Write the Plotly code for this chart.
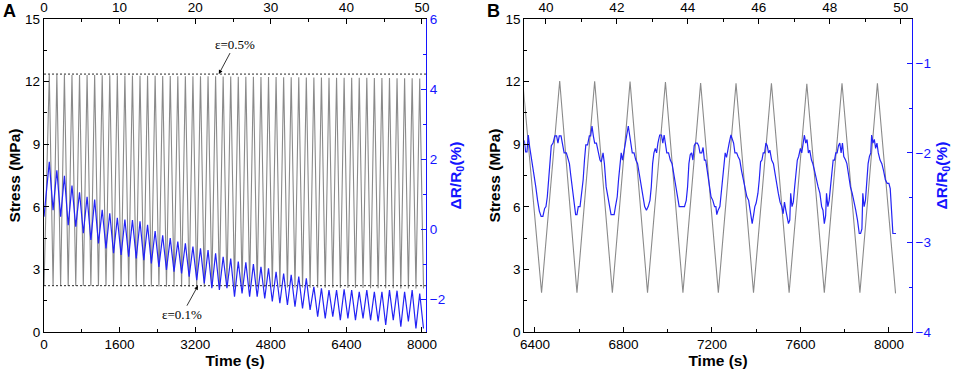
import plotly.graph_objects as go

# ---------------- Panel A data ----------------
a_peak_t = [112, 272, 432, 592, 752, 912, 1072, 1232, 1392, 1552, 1712, 1872, 2032, 2192, 2352, 2512, 2672,
            2832, 2992, 3152, 3312, 3472, 3632, 3792, 3952, 4112, 4272, 4432, 4592, 4752, 4912, 5072, 5232,
            5392, 5552, 5712, 5872, 6032, 6192, 6352, 6512, 6672, 6832, 6992, 7152, 7312, 7472, 7632, 7792, 7952]
a_trough_t = [192, 352, 512, 672, 832, 992, 1152, 1312, 1472, 1632, 1792, 1952, 2112, 2272, 2432, 2592, 2752,
              2912, 3072, 3232, 3392, 3552, 3712, 3872, 4032, 4192, 4352, 4512, 4672, 4832, 4992, 5152, 5312,
              5472, 5632, 5792, 5952, 6112, 6272, 6432, 6592, 6752, 6912, 7072, 7232, 7392, 7552, 7712, 7872, 8032]
a_stress_start = 2.2
a_stress_peak = [12.34, 12.33, 12.33, 12.32, 12.32, 12.31, 12.31, 12.30, 12.30, 12.30,
                 12.29, 12.29, 12.28, 12.28, 12.28, 12.27, 12.27, 12.26, 12.26, 12.26,
                 12.25, 12.25, 12.25, 12.24, 12.24, 12.23, 12.23, 12.23, 12.22, 12.22,
                 12.22, 12.21, 12.21, 12.21, 12.20, 12.20, 12.20, 12.19, 12.19, 12.19,
                 12.18, 12.18, 12.18, 12.17, 12.17, 12.17, 12.16, 12.16, 12.16, 12.15]
a_stress_trough = [2.22, 2.22, 2.21, 2.21, 2.21, 2.20, 2.20, 2.20, 2.19, 2.19,
                   2.19, 2.18, 2.18, 2.18, 2.18, 2.17, 2.17, 2.17, 2.16, 2.16,
                   2.16, 2.16, 2.15, 2.15, 2.15, 2.15, 2.14, 2.14, 2.14, 2.14,
                   2.13, 2.13, 2.13, 2.13, 2.12, 2.12, 2.12, 2.12, 2.11, 2.11,
                   2.11, 2.11, 2.10, 2.10, 2.10, 2.10, 2.09, 2.09, 2.09, 2.08]
a_res_start = 0.35
a_res_peak = [1.92, 1.68, 1.52, 1.24, 1.05, 0.92, 0.84, 0.55, 0.45, 0.32,
              0.27, 0.26, 0.22, 0.12, -0.06, -0.18, -0.26, -0.36, -0.41, -0.50,
              -0.55, -0.60, -0.69, -0.79, -0.84, -0.93, -0.95, -1.00, -1.08, -1.12,
              -1.22, -1.27, -1.31, -1.36, -1.41, -1.65, -1.69, -1.74, -1.74, -1.72,
              -1.74, -1.79, -1.74, -1.79, -1.79, -1.74, -1.76, -1.79, -1.74, -1.84]
a_res_trough = [0.54, 0.35, 0.11, 0.07, -0.12, -0.31, -0.41, -0.55, -0.69, -0.74,
                -0.79, -0.84, -0.89, -0.98, -1.08, -1.17, -1.22, -1.27, -1.36, -1.46,
                -1.55, -1.69, -1.74, -1.69, -1.93, -1.84, -1.93, -1.93, -1.98, -2.07,
                -2.12, -2.17, -2.22, -2.27, -2.31, -2.50, -2.55, -2.50, -2.60, -2.55,
                -2.60, -2.55, -2.60, -2.64, -2.74, -2.60, -2.79, -2.64, -2.84, -2.84]
strain_hi_stress = 12.36   # eps = 0.5 %
strain_lo_stress = 2.22    # eps = 0.1 %
strain_line_t = [0, 8085]

a_time_ticks = [0, 1600, 3200, 4800, 6400, 8000]
a_cycle_ticks = [0, 10, 20, 30, 40, 50]

# ---------------- Panel B data ----------------
b_stress_t = [6345, 6430, 6512, 6590, 6670, 6750, 6830, 6909, 6990, 7069, 7149, 7229, 7309, 7388,
              7469, 7549, 7629, 7708, 7788, 7869, 7948, 8030]
b_stress_v = [12.0, 1.88, 12.03, 1.88, 12.02, 1.88, 12.0, 1.88, 11.98, 1.88, 11.93, 1.88, 11.92, 1.88,
              11.92, 1.88, 11.9, 1.88, 11.92, 1.88, 11.92, 1.85]
b_res_t = [6352, 6358, 6364, 6370, 6376, 6386, 6396, 6404, 6412, 6420,
           6428, 6436, 6444, 6450, 6456, 6462, 6468, 6474, 6482, 6490, 6498, 6504, 6510, 6518, 6524, 6532, 6542, 6550, 6556, 6562, 6568, 6574, 6578,
           6584, 6590, 6596, 6604, 6610, 6618, 6624, 6630, 6638, 6646, 6652, 6658, 6664, 6670, 6678, 6686, 6694, 6700, 6708, 6714, 6722, 6730, 6738, 6744,
           6750, 6758, 6764, 6772, 6778, 6784, 6790, 6796, 6802, 6808, 6816, 6822, 6828, 6834, 6840, 6848, 6856, 6864, 6872, 6880, 6888, 6896,
           6904, 6912, 6920, 6926, 6932, 6938, 6944, 6950, 6956, 6964, 6972, 6978, 6984, 6990, 6996, 7004, 7012, 7020, 7028, 7036, 7044, 7052, 7060,
           7068, 7076, 7084, 7090, 7096, 7102, 7108, 7114, 7120, 7126, 7134, 7140, 7146, 7154, 7160, 7166, 7172, 7180, 7188, 7196, 7204, 7212, 7218,
           7222, 7228, 7236, 7242, 7248, 7254, 7260, 7266, 7272, 7278, 7286, 7292, 7298, 7304, 7312, 7318, 7326, 7334, 7342, 7350, 7358, 7366, 7374,
           7382, 7388, 7394, 7400, 7408, 7414, 7420, 7426, 7432, 7438, 7444, 7450, 7456, 7462, 7470, 7478, 7486, 7494, 7500, 7508, 7516, 7522, 7528, 7534,
           7546, 7552, 7556, 7562, 7568, 7574, 7580, 7586, 7592, 7600, 7606, 7612, 7618, 7624, 7630, 7636, 7642, 7650, 7656, 7664, 7672, 7680, 7688, 7696, 7702,
           7708, 7714, 7718, 7724, 7730, 7736, 7742, 7748, 7754, 7760, 7766, 7772, 7778, 7784, 7790, 7796, 7804, 7810, 7818, 7826, 7834, 7842, 7850, 7858,
           7866, 7872, 7878, 7882, 7888, 7894, 7900, 7906, 7912, 7918, 7922, 7928, 7934, 7940, 7946, 7952, 7960, 7968, 7976, 7984, 7992, 8000, 8006, 8012, 8018, 8032]
b_res_v = [-1.86, -1.99, -1.99, -1.80, -1.93, -2.08, -2.23, -2.38, -2.53, -2.65,
           -2.71, -2.71, -2.62, -2.60, -2.49, -2.30, -2.02, -1.92, -1.89, -1.81, -1.81, -1.89, -1.81, -1.81, -1.89, -2.00, -2.00, -2.08, -2.12, -2.25, -2.38, -2.49, -2.60,
           -2.69, -2.69, -2.60, -2.60, -2.49, -2.30, -2.08, -1.91, -1.91, -1.81, -1.81, -1.70, -1.81, -1.89, -1.89, -2.00, -2.08, -2.10, -2.00, -2.12, -2.38, -2.49, -2.60, -2.69,
           -2.69, -2.69, -2.60, -2.49, -2.30, -2.10, -2.00, -2.08, -2.00, -1.89, -1.80, -1.70, -1.80, -1.89, -2.00, -2.00, -2.08, -2.12, -2.25, -2.38, -2.49, -2.60,
           -2.64, -2.60, -2.53, -2.38, -2.12, -2.00, -1.95, -2.00, -1.89, -1.80, -1.80, -1.89, -1.80, -1.89, -2.00, -2.00, -2.08, -2.12, -2.25, -2.38, -2.49, -2.60, -2.60,
           -2.60, -2.60, -2.53, -2.38, -2.12, -2.02, -2.00, -2.08, -1.92, -1.89, -1.89, -1.92, -2.00, -2.00, -1.94, -2.08, -2.08, -2.20, -2.34, -2.49, -2.53, -2.60, -2.60,
           -2.69, -2.64, -2.60, -2.45, -2.30, -2.10, -2.00, -2.05, -1.95, -1.89, -1.80, -1.85, -1.89, -2.00, -2.00, -2.04, -2.08, -2.20, -2.30, -2.38, -2.49, -2.53, -2.64,
           -2.79, -2.70, -2.60, -2.56, -2.45, -2.30, -2.10, -2.08, -2.00, -2.00, -1.89, -1.92, -2.00, -1.97, -2.08, -2.12, -2.25, -2.38, -2.45, -2.55, -2.60, -2.68, -2.55, -2.64,
           -2.79, -2.75, -2.45, -2.60, -2.55, -2.38, -2.20, -2.08, -2.04, -1.95, -2.00, -1.89, -1.80, -1.89, -1.85, -2.00, -1.97, -2.08, -2.12, -2.20, -2.30, -2.38, -2.45, -2.60, -2.64,
           -2.79, -2.70, -2.45, -2.60, -2.53, -2.38, -2.20, -2.08, -2.08, -2.00, -2.00, -1.92, -1.89, -2.00, -1.89, -2.04, -2.08, -2.12, -2.25, -2.38, -2.45, -2.53, -2.64, -2.75,
           -2.90, -2.90, -2.85, -2.45, -2.60, -2.53, -2.30, -2.12, -2.04, -2.00, -1.80, -1.89, -1.85, -1.95, -1.89, -2.00, -2.08, -2.12, -2.20, -2.30, -2.34, -2.34, -2.40, -2.68, -2.90, -2.90]
b_time_ticks = [6400, 6800, 7200, 7600, 8000]
b_cycle_ticks = [40, 42, 44, 46, 48, 50]

# ---------------- build series ----------------
def interleave(t0, v0, tp, vp, tt, vt):
    ts, vs = [t0], [v0]
    for a, b, c, d in zip(tp, vp, tt, vt):
        ts += [a, c]
        vs += [b, d]
    return ts, vs

a_st_t, a_st_v = interleave(0, a_stress_start, a_peak_t, a_stress_peak, a_trough_t, a_stress_trough)
a_rs_t, a_rs_v = interleave(0, a_res_start, a_peak_t, a_res_peak, a_trough_t, a_res_trough)

GRAY = "rgb(138,138,138)"
BLUE = "rgb(35,35,245)"
AXBLUE = "rgb(20,20,255)"
FONT = "Liberation Sans, Arial, sans-serif"

fig = go.Figure()
fig.add_trace(go.Scatter(x=a_st_t, y=a_st_v, mode="lines", line=dict(color=GRAY, width=1.1),
                         xaxis="x", yaxis="y", hoverinfo="skip"))
for lvl in (strain_hi_stress, strain_lo_stress):
    fig.add_trace(go.Scatter(x=strain_line_t, y=[lvl, lvl], mode="lines",
                             line=dict(color="rgb(40,40,40)", width=1, dash="2px,2px"),
                             xaxis="x", yaxis="y", hoverinfo="skip"))
fig.add_trace(go.Scatter(x=a_rs_t, y=a_rs_v, mode="lines", line=dict(color=BLUE, width=1.2),
                         xaxis="x", yaxis="y2", hoverinfo="skip"))
fig.add_trace(go.Scatter(x=[0, 50], y=[None, None], mode="lines", xaxis="x3", yaxis="y",
                         hoverinfo="skip"))
fig.add_trace(go.Scatter(x=b_stress_t, y=b_stress_v, mode="lines", line=dict(color=GRAY, width=1.1),
                         xaxis="x2", yaxis="y3", hoverinfo="skip"))
fig.add_trace(go.Scatter(x=b_res_t, y=b_res_v, mode="lines", line=dict(color=BLUE, width=1.2),
                         xaxis="x2", yaxis="y4", hoverinfo="skip"))
fig.add_trace(go.Scatter(x=[40, 50], y=[None, None], mode="lines", xaxis="x4", yaxis="y3",
                         hoverinfo="skip"))

tickfont = dict(family=FONT, size=13.5, color="black")
bluefont = dict(family=FONT, size=13.5, color=AXBLUE)
titlefont = dict(family=FONT, size=15.5, color="black")
bluetitle = dict(family=FONT, size=15.5, color=AXBLUE)

def ax(**kw):
    base = dict(showgrid=False, zeroline=False, showline=True, linecolor="black", linewidth=1.3,
                ticks="inside", ticklen=5, tickwidth=1.2, tickcolor="black", tickfont=tickfont,
                automargin=False)
    base.update(kw)
    return base

ydom = [1 - 332 / 371, 1 - 19 / 371]
fig.update_layout(
    width=960, height=371, margin=dict(l=0, r=0, t=0, b=0, autoexpand=False),
    paper_bgcolor="white", plot_bgcolor="white", showlegend=False,
    xaxis=ax(domain=[44 / 960, 426 / 960], anchor="y", range=[0, 8085], tickvals=a_time_ticks,
             minor=dict(dtick=800, ticklen=3, ticks="inside", tickcolor="black"),
             title=dict(text="<b>Time (s)</b>", font=titlefont, standoff=1)),
    xaxis3=ax(overlaying="x", side="top", anchor="y", range=[0, 50.53], tickvals=a_cycle_ticks,
              minor=dict(dtick=5, ticklen=3, ticks="inside", tickcolor="black")),
    yaxis=ax(domain=ydom, anchor="x", range=[0, 15], tickvals=[0, 3, 6, 9, 12, 15],
             minor=dict(dtick=1.5, ticklen=3, ticks="inside", tickcolor="black"),
             title=dict(text="<b>Stress (MPa)</b>", font=titlefont, standoff=0)),
    yaxis2=ax(overlaying="y", side="right", anchor="x", range=[-2.94, 6], tickvals=[-2, 0, 2, 4, 6],
              linecolor=AXBLUE, tickcolor=AXBLUE, tickfont=bluefont,
              minor=dict(dtick=1, ticklen=3, ticks="inside", tickcolor=AXBLUE),
              title=dict(text="<b>ΔR/R<sub>0</sub>(%)</b>", font=bluetitle, standoff=5)),
    xaxis2=ax(domain=[524.3 / 960, 911.7 / 960], anchor="y3", range=[6352, 8103], tickvals=b_time_ticks,
              minor=dict(dtick=200, ticklen=3, ticks="inside", tickcolor="black"),
              title=dict(text="<b>Time (s)</b>", font=titlefont, standoff=1)),
    xaxis4=ax(overlaying="x2", side="top", anchor="y3", range=[39.39, 50.31], tickvals=b_cycle_ticks,
              minor=dict(dtick=1, ticklen=3, ticks="inside", tickcolor="black")),
    yaxis3=ax(domain=ydom, anchor="x2", range=[0, 15], tickvals=[0, 3, 6, 9, 12, 15],
              minor=dict(dtick=1.5, ticklen=3, ticks="inside", tickcolor="black"),
              title=dict(text="<b>Stress (MPa)</b>", font=titlefont, standoff=0)),
    yaxis4=ax(overlaying="y3", side="right", anchor="x2", range=[-4, -0.505], tickvals=[-4, -3, -2, -1],
              linecolor=AXBLUE, tickcolor=AXBLUE, tickfont=bluefont,
              minor=dict(dtick=0.5, ticklen=3, ticks="inside", tickcolor=AXBLUE),
              title=dict(text="<b>ΔR/R<sub>0</sub>(%)</b>", font=bluetitle, standoff=5)),
)

serif = dict(family="Liberation Serif, Times New Roman, serif", size=13, color="black")
fig.add_annotation(x=3700, y=strain_hi_stress, xref="x", yref="y", text="ε=0.5%", font=serif,
                   showarrow=True, arrowhead=2, arrowsize=1, arrowwidth=0.8, arrowcolor="black",
                   ax=16, ay=-30)
fig.add_annotation(x=3259, y=strain_lo_stress, xref="x", yref="y", text="ε=0.1%", font=serif,
                   showarrow=True, arrowhead=2, arrowsize=1, arrowwidth=0.8, arrowcolor="black",
                   ax=-16, ay=29)
fig.add_annotation(x=9 / 960, y=1 - 11 / 371, xref="paper", yref="paper", text="<b>A</b>",
                   xanchor="center", yanchor="middle",
                   showarrow=False, font=dict(family=FONT, size=18, color="black"))
fig.add_annotation(x=493 / 960, y=1 - 11 / 371, xref="paper", yref="paper", text="<b>B</b>",
                   xanchor="center", yanchor="middle",
                   showarrow=False, font=dict(family=FONT, size=18, color="black"))

fig.write_html("out.html", config={"displayModeBar": False},
               post_script="document.body.style.margin='0px';document.body.style.padding='0px';"
                           "document.body.style.overflow='hidden';")
